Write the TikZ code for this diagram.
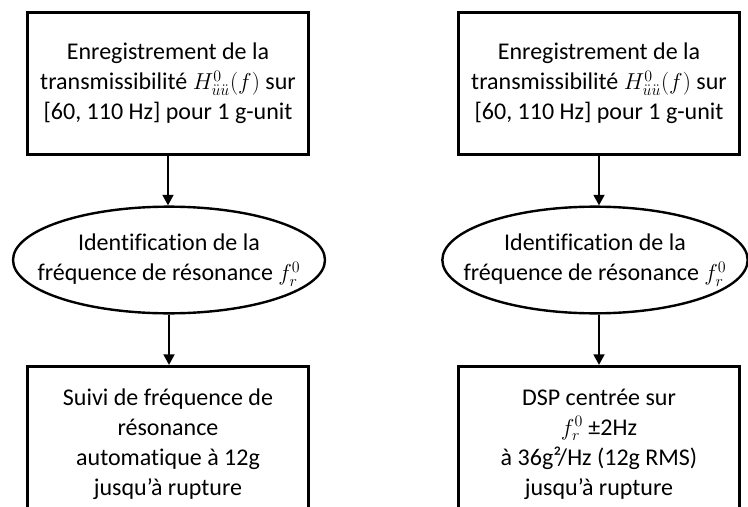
\documentclass[tikz,border=0pt]{standalone}
\usepackage{fontspec}
\setmainfont[Ligatures=NoCommon,RawFeature={-calt}]{Carlito}
\usetikzlibrary{arrows.meta,shapes.geometric,positioning}
\tikzset{
box/.style={
  draw,
  rectangle,
  line width=2.5pt,
  minimum width=211pt,
  minimum height=106pt,
  align=center,
  font=\fontsize{18}{22.5}\selectfont
  },
oval/.style={
  draw,
  ellipse,
  line width=1.8pt,
  inner sep=0pt
  },
txt/.style={align=center, font=\fontsize{18}{22.5}\selectfont},
line/.style={draw, line width=2pt, -{Triangle[length=8pt,width=8pt]}}
}

\begin{document}
\begin{tikzpicture}[x=0.75pt,y=0.75pt,yscale=-1,xscale=1]
\useasboundingbox (0,0) rectangle (748,506);
\clip (0,0) rectangle (748,506);

% left column
\node [box] (recL) at (168,83.5) {Enregistrement de la\\ transmissibilité $H^{0}_{\ddot{u}\ddot{u}}(f)$ sur\\ {[60, 110 Hz]} pour 1 g-unit};
\node [oval, minimum width=234pt, minimum height=80pt] (identL) at (169,260) {};
\node [txt] (identLt) at (identL) {Identification de la\\ fréquence de résonance $f_r^0$};
\node [box, minimum height=116pt] (suivi) at (168,444) {Suivi de fréquence de\\ résonance\\ automatique à 12g\\ jusqu’à rupture};

% right column
\node [box] (recR) at (599,83.5) {Enregistrement de la\\ transmissibilité $H^{0}_{\ddot{u}\ddot{u}}(f)$ sur\\ {[60, 110 Hz]} pour 1 g-unit};
\node [oval, minimum width=229pt, minimum height=80pt] (identR) at (595,260) {};
\node [txt] (identRt) at (identR) {Identification de la\\ fréquence de résonance $f_r^0$};
\node [box, minimum height=116pt] (dsp) at (599,444) {DSP centrée sur\\ $f_r^0$ ±2Hz\\ à 36g²/Hz (12g RMS)\\ jusqu’à rupture};

\draw [line] (recL.south) -- (recL.south |- identL.north);
\draw [line] (identL.south) -- (identL.south |- suivi.north);
\draw [line] (recR.south) -- (recR.south |- identR.north);
\draw [line] (recR.south |- identR.south) -- (dsp.north);

\end{tikzpicture}
\end{document}
